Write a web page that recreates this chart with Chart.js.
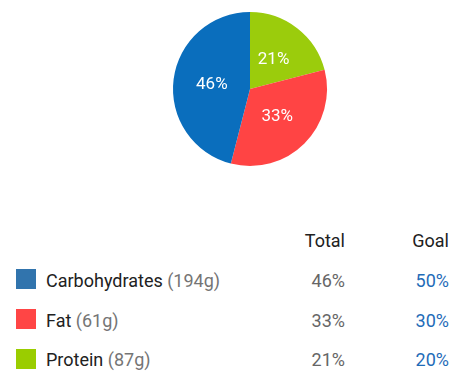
<!DOCTYPE html>
<html>
<head>
<meta charset="utf-8">
<script src="https://cdn.jsdelivr.net/npm/chart.js@4.4.1/dist/chart.umd.min.js"></script>
<style>
  html, body { margin: 0; padding: 0; background: #fff; }
  body { width: 474px; height: 381px; position: relative; overflow: hidden; font-family: Roboto, "Noto Sans", sans-serif; }
  #wrap { position: absolute; left: 0; top: 0; width: 474px; height: 178px; }
  .t { position: absolute; font-size: 18px; line-height: 20px; white-space: nowrap; }
  .hdr { color: #212121; }
  .name { color: #212121; }
  .grams { color: #757575; }
  .tot { color: #666666; text-align: right; }
  .goal { color: #1f6cb8; text-align: right; }
  .sw { position: absolute; width: 20px; height: 20px; left: 16px; }
</style>
</head>
<body>
<div id="wrap"><canvas id="c"></canvas></div>
<div id="table"></div>
<script>
const categories = ["Carbohydrates", "Fat", "Protein"];
const grams = ["194g", "61g", "87g"];
const totalPct = [46, 33, 21];
const goalPct = [50, 30, 20];
const headers = ["Total", "Goal"];

const pieColors = ["#0a6ebd", "#ff4444", "#9bcc0c"];
const swatchColors = ["#3174ad", "#ff4545", "#9acd00"];

// Chart.js draws clockwise; the reference runs counter-clockwise from the top,
// so feed the slices in reverse order.
const order = categories.map((_, i) => i).reverse();

const labelPlugin = {
  id: 'sliceLabels',
  afterDatasetsDraw(chart) {
    const ctx = chart.ctx;
    const meta = chart.getDatasetMeta(0);
    ctx.save();
    ctx.fillStyle = '#ffffff';
    ctx.font = '17px Roboto';
    ctx.textAlign = 'center';
    ctx.textBaseline = 'middle';
    meta.data.forEach((arc, i) => {
      const p = arc.tooltipPosition();
      ctx.fillText(chart.data.datasets[0].data[i] + '%', p.x, p.y + 1);
    });
    ctx.restore();
  }
};

new Chart(document.getElementById('c'), {
  type: 'pie',
  data: {
    labels: order.map(i => categories[i]),
    datasets: [{
      data: order.map(i => totalPct[i]),
      backgroundColor: order.map(i => pieColors[i]),
      borderWidth: 0
    }]
  },
  options: {
    responsive: true,
    maintainAspectRatio: false,
    animation: false,
    layout: { padding: { left: 26, right: 0, top: 12, bottom: 12 } },
    plugins: { legend: { display: false }, tooltip: { enabled: false } }
  },
  plugins: [labelPlugin]
});

// table
const tbl = document.getElementById('table');
function add(cls, text, style) {
  const d = document.createElement('div');
  d.className = cls;
  if (text !== null) d.textContent = text;
  Object.assign(d.style, style);
  tbl.appendChild(d);
  return d;
}
const headerY = 241;
const rowY = [281, 321, 360];
const totRight = 474 - 345;
const goalRight = 474 - 449;
add('t hdr', headers[0], { top: (headerY - 10) + 'px', right: totRight + 'px' });
add('t hdr', headers[1], { top: (headerY - 10) + 'px', right: goalRight + 'px' });
categories.forEach((c, i) => {
  const y = rowY[i];
  add('sw', null, { top: (269 + 40 * i) + 'px', background: swatchColors[i] });
  const n = add('t name', null, { top: (y - 10) + 'px', left: '46px' });
  n.appendChild(document.createTextNode(c + ' '));
  const g = document.createElement('span');
  g.className = 'grams';
  g.textContent = '(' + grams[i] + ')';
  n.appendChild(g);
  add('t tot', totalPct[i] + '%', { top: (y - 10) + 'px', right: totRight + 'px' });
  add('t goal', goalPct[i] + '%', { top: (y - 10) + 'px', right: goalRight + 'px' });
});
</script>
</body>
</html>
